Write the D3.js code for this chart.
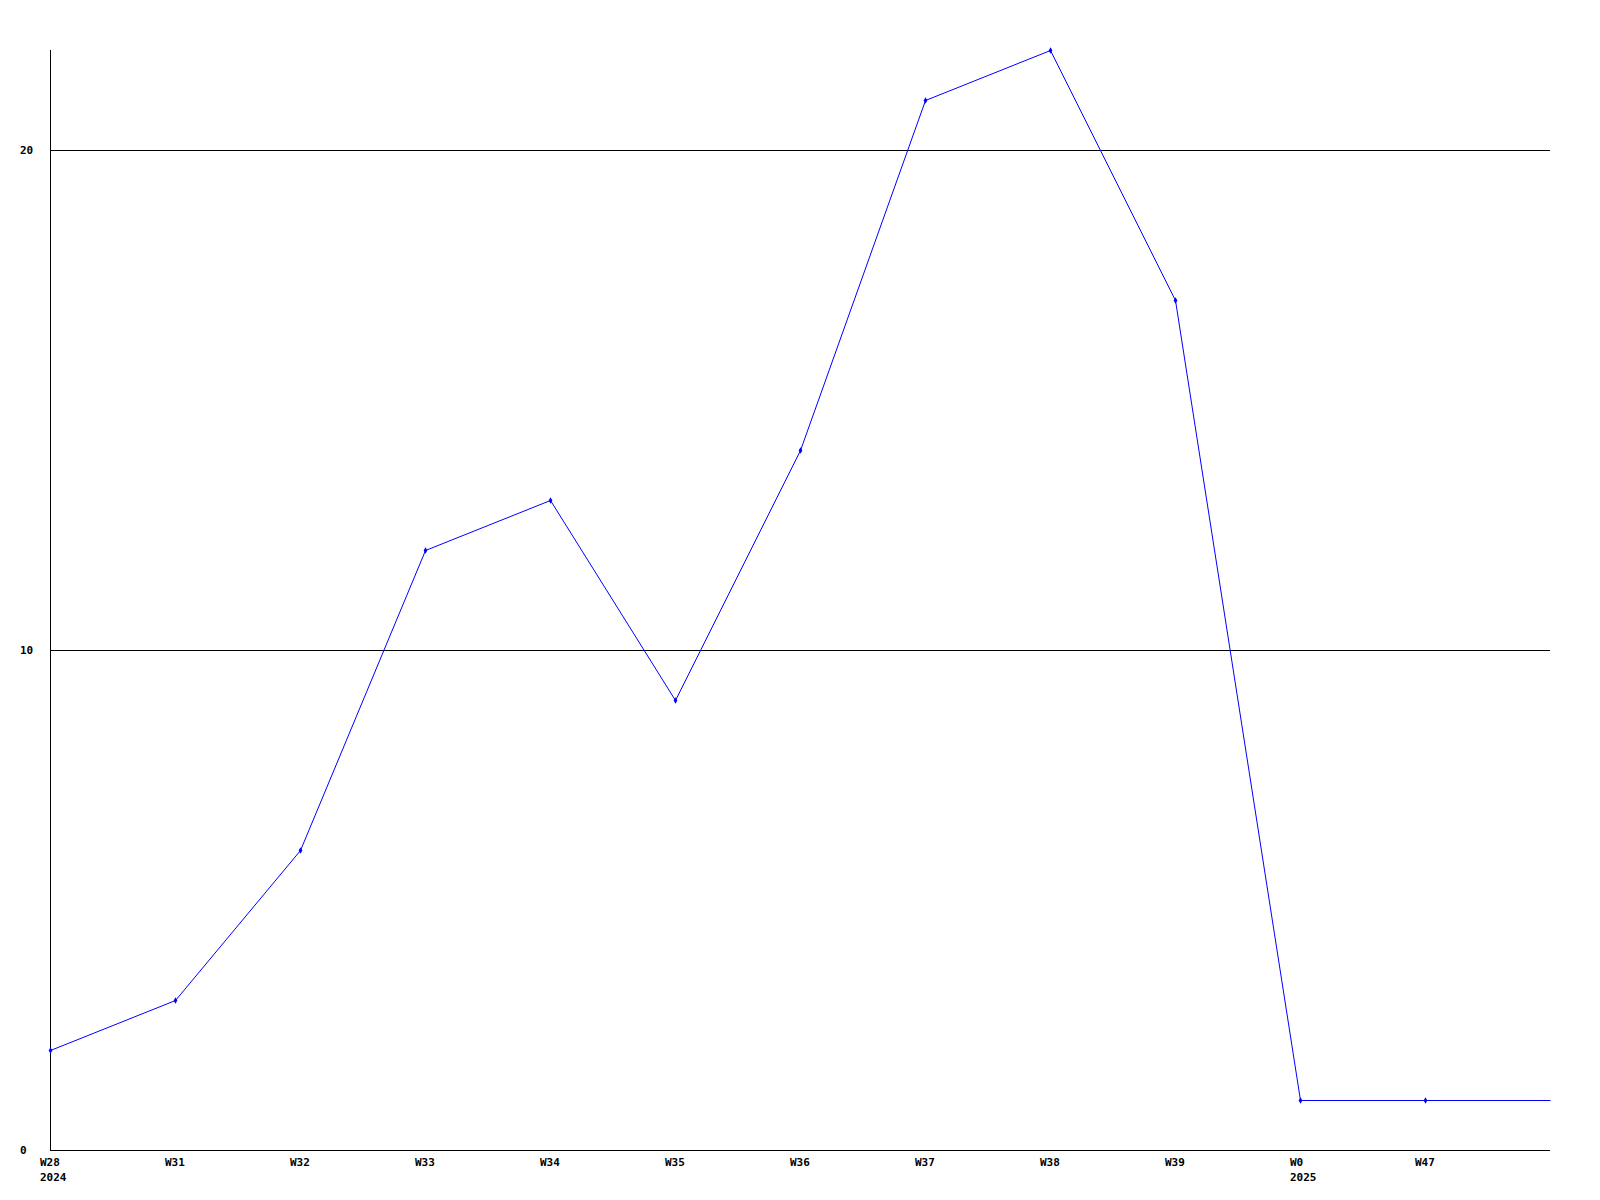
<!DOCTYPE html>
<html>
<head>
<meta charset="utf-8">
<script src="https://cdn.jsdelivr.net/npm/d3@7"></script>
<style>
  body { margin: 0; background: #fff; }
  text { font-family: "DejaVu Sans Mono", monospace; font-weight: bold; font-size: 11px; fill: #000; }
</style>
</head>
<body>
<div id="chart"></div>
<script>
// data
var weeks = ["W28", "W31", "W32", "W33", "W34", "W35", "W36", "W37", "W38", "W39", "W0", "W47"];
var years = ["2024", "", "", "", "", "", "", "", "", "", "2025", ""];
var counts = [2, 3, 6, 12, 13, 9, 14, 21, 22, 17, 1, 1];
var yTicks = [0, 10, 20];

var margin = { top: 50, right: 50, bottom: 50, left: 50 },
  width = 1600 - margin.left - margin.right,
  height = 1200 - margin.top - margin.bottom;

var svg = d3.select("#chart")
  .append("svg")
  .attr("width", 1600)
  .attr("height", 1200)
  .append("g")
  .attr("transform", "translate(" + margin.left + "," + margin.top + ")");

// one slot per week, last point continues flat to the right edge
var x = d3.scaleLinear()
  .domain([0, weeks.length])
  .range([0, width]);

var y = d3.scaleLinear()
  .domain([0, 22])
  .range([height, 0]);

// gridlines
svg.append("g")
  .selectAll("line")
  .data(yTicks.filter(function (d) { return d > 0; }))
  .enter()
  .append("line")
  .attr("x1", 0)
  .attr("x2", width)
  .attr("y1", function (d) { return y(d) + 0.5; })
  .attr("y2", function (d) { return y(d) + 0.5; })
  .attr("stroke", "black")
  .attr("stroke-width", 1);

// axes lines
svg.append("line")
  .attr("x1", 0.5).attr("x2", 0.5)
  .attr("y1", 0).attr("y2", height + 0.5)
  .attr("stroke", "black");
svg.append("line")
  .attr("x1", 0).attr("x2", width)
  .attr("y1", height + 0.5).attr("y2", height + 0.5)
  .attr("stroke", "black");

// y labels
svg.append("g")
  .selectAll("text")
  .data(yTicks)
  .enter()
  .append("text")
  .attr("x", -30)
  .attr("y", function (d) { return y(d); })
  .attr("dy", "0.35em")
  .text(function (d) { return d; });

// x labels
var xl = svg.append("g")
  .selectAll("g")
  .data(weeks)
  .enter()
  .append("g")
  .attr("transform", function (d, i) { return "translate(" + (x(i) - 10) + "," + height + ")"; });
xl.append("text")
  .attr("y", 16)
  .text(function (d) { return d; });
xl.append("text")
  .attr("y", 31)
  .text(function (d, i) { return years[i]; });

// line
var pts = counts.map(function (c, i) { return [i, c]; });
pts.push([weeks.length, counts[counts.length - 1]]);

svg.append("path")
  .datum(pts)
  .attr("fill", "none")
  .attr("stroke", "#0000ff")
  .attr("stroke-width", 1)
  .attr("d", d3.line()
    .x(function (d) { return x(d[0]) + 0.5; })
    .y(function (d) { return y(d[1]) + 0.5; })
  );

// markers
svg.append("g")
  .selectAll("path")
  .data(counts)
  .enter()
  .append("path")
  .attr("transform", function (d, i) { return "translate(" + (x(i) + 0.5) + "," + (y(d) + 0.5) + ")"; })
  .attr("d", d3.symbol().type(d3.symbolDiamond).size(12))
  .attr("fill", "#0000ff");
</script>
</body>
</html>
